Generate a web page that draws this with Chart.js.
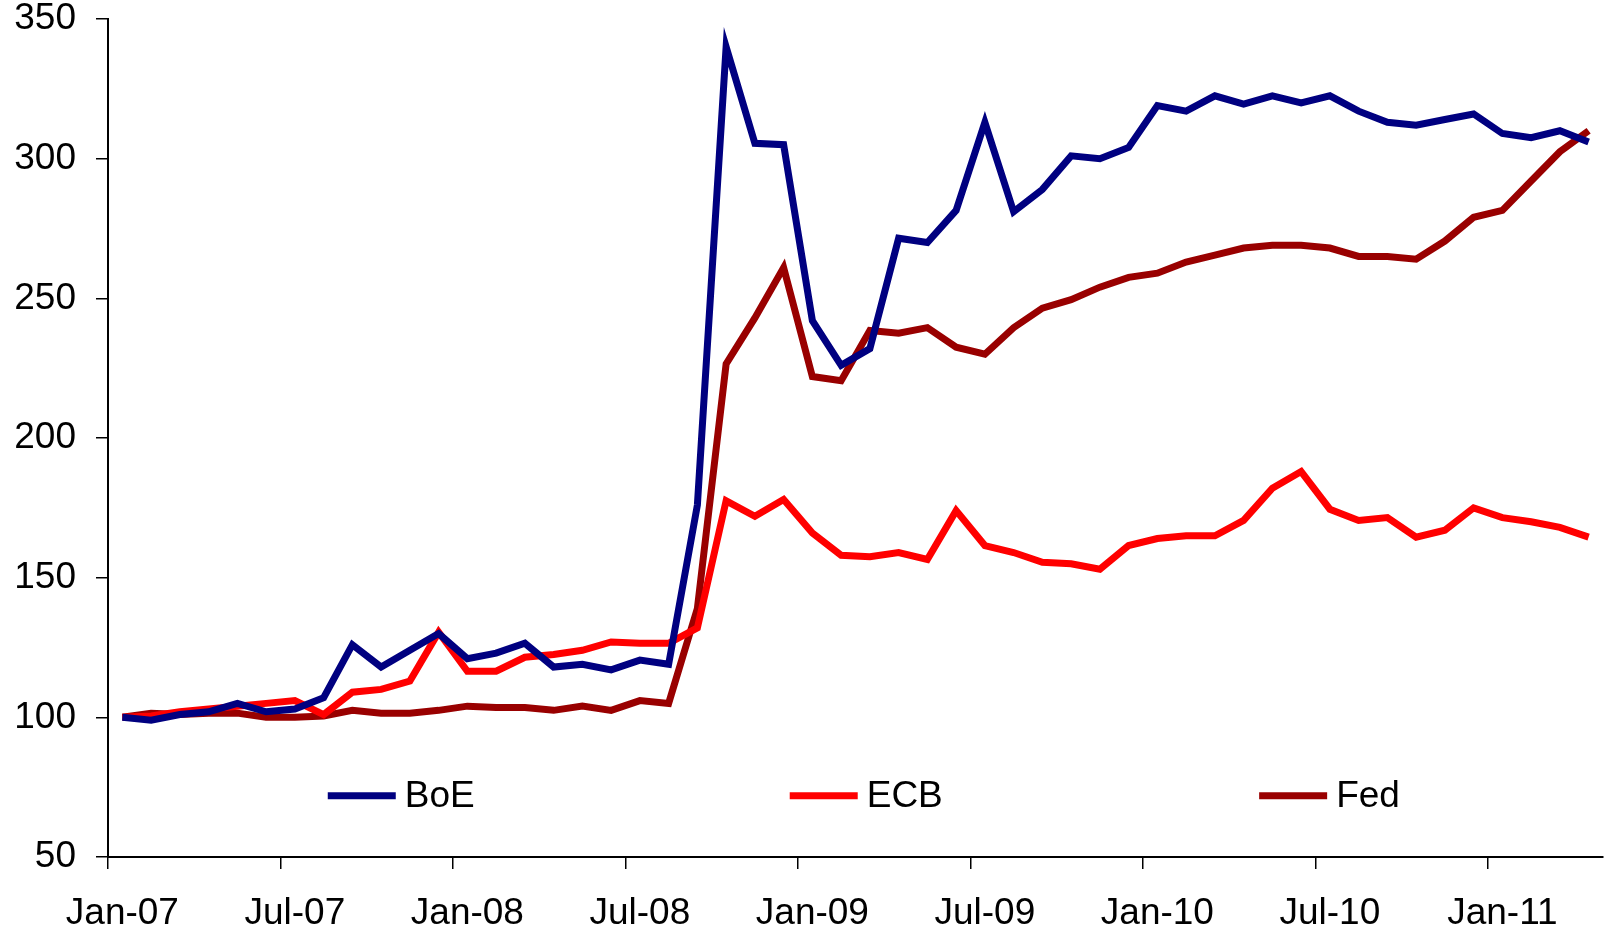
<!DOCTYPE html>
<html>
<head>
<meta charset="utf-8">
<script src="https://cdn.jsdelivr.net/npm/chart.js@4/dist/chart.umd.min.js"></script>
<style>
  html, body { margin: 0; padding: 0; background: #fff; }
  canvas { display: block; }
</style>
</head>
<body>
<canvas id="myChart" width="1605" height="929"></canvas>
<script>
// monthly, Jan-07 .. Apr-11 (index, Jan-07 = 100)
const MONTHS = ['Jan', 'Feb', 'Mar', 'Apr', 'May', 'Jun', 'Jul', 'Aug', 'Sep', 'Oct', 'Nov', 'Dec'];
const labels = [];
for (let y = 7; y <= 11; y++) {
  for (let m = 0; m < 12; m++) {
    if (y === 11 && m > 3) break;
    labels.push(MONTHS[m] + '-' + String(y).padStart(2, '0'));
  }
}

const boe = [100, 99, 101, 102, 105, 102, 103, 107, 126, 118, 124, 130,
  121, 123, 126.5, 118, 119, 117, 120.5, 119, 176, 340, 305.5, 305,
  242, 226, 232, 271.5, 270, 281.5, 313, 281, 289, 301, 300, 304,
  319, 317, 322.5, 319.5, 322.5, 320, 322.5, 317, 313, 312, 314, 316,
  309, 307.5, 310, 306];

const ecb = [100, 100.5, 102, 103, 104, 105, 106, 101, 109, 110, 113, 130.5,
  116.5, 116.5, 121.5, 122.5, 124, 127, 126.5, 126.5, 132, 177.5, 172, 178,
  166, 158, 157.5, 159, 156.5, 174, 161.5, 159, 155.5, 155, 153, 161.5,
  164, 165, 165, 170.5, 182, 188, 174.5, 170.5, 171.5, 164.5, 167, 175,
  171.5, 170, 168, 164.5];

const fed = [100, 101.5, 101, 101.5, 101.5, 100, 100, 100.5, 102.5, 101.5, 101.5, 102.5,
  104, 103.5, 103.5, 102.5, 104, 102.5, 106, 105, 139, 226.5, 243, 261,
  222, 220.5, 238.5, 237.5, 239.5, 232.5, 230, 239.5, 246.5, 249.5, 254, 257.5,
  259, 263, 265.5, 268, 269, 269, 268, 265, 265, 264, 270.5, 279,
  281.5, 292, 302.5, 310];

const FONT = 'Arial, "Liberation Sans", sans-serif';

// legend sits inside the plot, near the bottom
const insideLegend = {
  id: 'insideLegend',
  afterDraw(chart) {
    const ctx = chart.ctx;
    const a = chart.chartArea;
    const starts = [0.147, 0.456, 0.770];
    const y = a.top + (a.bottom - a.top) * 0.927;
    ctx.save();
    ctx.font = '37px ' + FONT;
    ctx.textBaseline = 'middle';
    ctx.fillStyle = '#000';
    chart.data.datasets.forEach((ds, i) => {
      const x = a.left + (a.right - a.left) * starts[i];
      ctx.strokeStyle = ds.borderColor;
      ctx.lineWidth = 7;
      ctx.beginPath();
      ctx.moveTo(x, y);
      ctx.lineTo(x + 68, y);
      ctx.stroke();
      ctx.fillText(ds.label, x + 77, y + 1);
    });
    ctx.restore();
  }
};

const line = (label, data, color) => ({
  label: label,
  data: data,
  borderColor: color,
  backgroundColor: color,
  borderWidth: 7,
  pointRadius: 0,
  tension: 0,
  fill: false,
});

const config = {
  type: 'line',
  data: {
    labels: labels,
    datasets: [
      line('BoE', boe, '#000080'),
      line('ECB', ecb, '#FF0000'),
      line('Fed', fed, '#990000'),
    ],
  },
  options: {
    responsive: false,
    animation: false,
    devicePixelRatio: 1,
    layout: { padding: { top: 0, right: 0, left: 0, bottom: 0 } },
    plugins: {
      legend: { display: false },
      tooltip: { enabled: false },
    },
    scales: {
      x: {
        type: 'category',
        offset: true,
        grid: {
          offset: true,
          drawOnChartArea: false,
          tickLength: 12,
          lineWidth: 1.5,
          color: (c) => (c.index % 6 === 0 ? '#000' : 'rgba(0,0,0,0)'),
        },
        border: { display: true, color: '#000', width: 2 },
        ticks: {
          autoSkip: false,
          maxRotation: 0,
          minRotation: 0,
          padding: 26,
          color: '#000',
          font: { family: FONT, size: 37, lineHeight: 1 },
          callback: function (v, i) { return i % 6 === 0 ? this.getLabelForValue(v) : ''; },
        },
        afterFit: (s) => { s.height = 72; s.paddingLeft = 0; s.paddingRight = 2; },
      },
      y: {
        min: 50,
        max: 350,
        grid: {
          drawOnChartArea: false,
          tickLength: 12,
          lineWidth: 1.5,
          color: '#000',
        },
        border: { display: true, color: '#000', width: 2 },
        ticks: {
          stepSize: 50,
          padding: 20,
          color: '#000',
          font: { family: FONT, size: 37, lineHeight: 1 },
        },
        afterFit: (s) => { s.width = 108; s.paddingTop = 19; },
      },
    },
  },
  plugins: [insideLegend],
};

const ctx = document.getElementById('myChart').getContext('2d');
const myChart = new Chart(ctx, config);
</script>
</body>
</html>
